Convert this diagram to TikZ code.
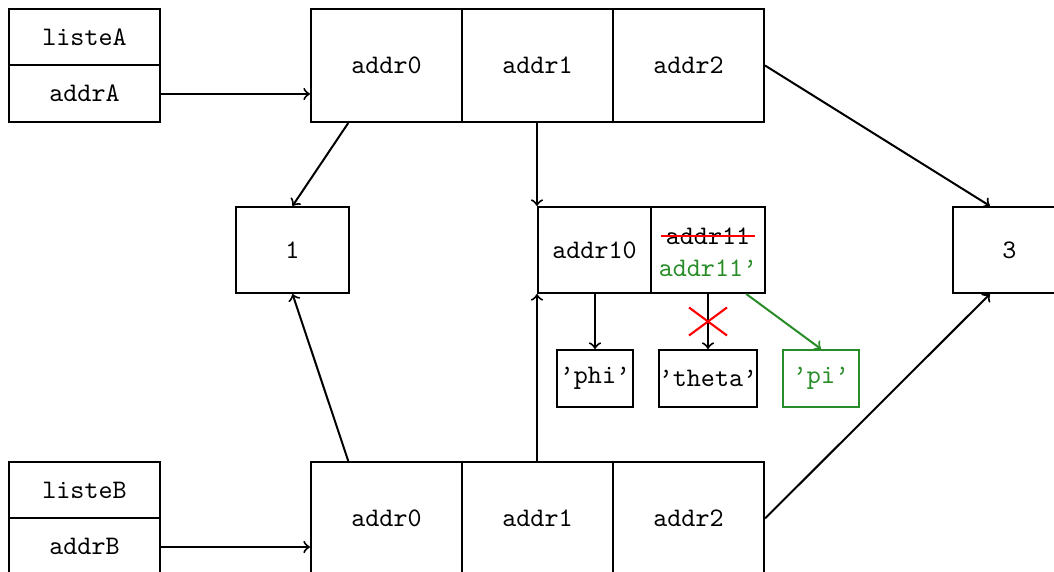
\documentclass[tikz,border=0pt]{standalone}
\usetikzlibrary{calc}
\definecolor{mygreen}{RGB}{40,140,40}
\begin{document}
\begin{tikzpicture}[x=0.3774pt,y=-0.3774pt,
  every node/.style={font=\ttfamily\fontsize{10.1}{12.5}\selectfont},
  box/.style={draw, line width=0.755pt, inner sep=0pt},
  lab/.style={box, minimum width=57pt, minimum height=21.13pt},
  cell/.style={box, minimum width=57pt, minimum height=42.65pt},
  val/.style={box, minimum width=42.65pt, minimum height=32.46pt},
  strbox/.style={box, minimum height=21.5pt},
  link/.style={->, line width=0.755pt},
]
\useasboundingbox (0,0) rectangle (1054,572);
% list A
\node[lab] (listeA) at (84.5,37) {listeA};
\node[lab, minimum height=21.5pt] (addrA) at (84.5,93.5) {addrA};
\node[cell] (A0) at (386.5,65.5) {addr0};
\node[cell] (A1) at (537.5,65.5) {addr1};
\node[cell] (A2) at (688.5,65.5) {addr2};
% list B
\node[lab] (listeB) at (84.5,490) {listeB};
\node[lab, minimum height=21.5pt] (addrB) at (84.5,546.5) {addrB};
\node[cell] (B0) at (386.5,518.5) {addr0};
\node[cell] (B1) at (537.5,518.5) {addr1};
\node[cell] (B2) at (688.5,518.5) {addr2};
% middle
\node[val] (one) at (292.5,250) {1};
\node[val] (a10) at (594.5,250) {addr10};
\node[val, minimum width=43.02pt] (a11) at (708,250) {};
\node[inner xsep=1.8pt, inner ysep=1pt] (s11) at (708,236) {addr11};
\node[text=mygreen, inner sep=1pt] (n11) at (708,268) {addr11’};
\node[val] (three) at (1009.5,250) {3};
\node[strbox, minimum width=28.68pt] (phi) at (595,378.5) {’phi’};
\node[strbox, minimum width=36.98pt] (theta) at (708,378.5) {’theta’};
\node[strbox, minimum width=28.68pt, draw=mygreen, text=mygreen] (pi) at (821,378.5) {’pi’};
% strike
\draw[red, line width=0.8pt] (s11.west) -- (s11.east);
% connectors
\draw[link] ([yshift=-0.19pt]addrA.east) -- ([yshift=-0.19pt]addrA.east -| A0.west);
\draw[link] ([yshift=-0.19pt]addrB.east) -- ([yshift=-0.19pt]addrB.east -| B0.west);
\draw[link] ($(A0.south west)!0.25!(A0.south east)$) -- (one.north);
\draw[link] ($(B0.north west)!0.25!(B0.north east)$) -- (one.south);
\draw[link] (a10.north west |- A1.south) -- (a10.north west);
\draw[link] (a10.south west |- B1.north) -- (a10.south west);
\draw[link] (A2.east) -- ($(three.north west)!0.33!(three.north east)$);
\draw[link] (B2.east) -- ($(three.south west)!0.33!(three.south east)$);
\draw[link] (phi.north |- a10.south) -- (phi.north);
\draw[link] (a11.south) -- (theta.north);
\draw[link, mygreen] ($(a11.south west)!0.83!(a11.south east)$) -- (pi.north);
% cross
\coordinate (cx) at ($(a11.south)!0.5!(theta.north)$);
\draw[red, line width=0.8pt] ($(cx)+(-19,-14)$) -- ($(cx)+(19,14)$);
\draw[red, line width=0.8pt] ($(cx)+(-19,14)$) -- ($(cx)+(19,-14)$);
\end{tikzpicture}
\end{document}
